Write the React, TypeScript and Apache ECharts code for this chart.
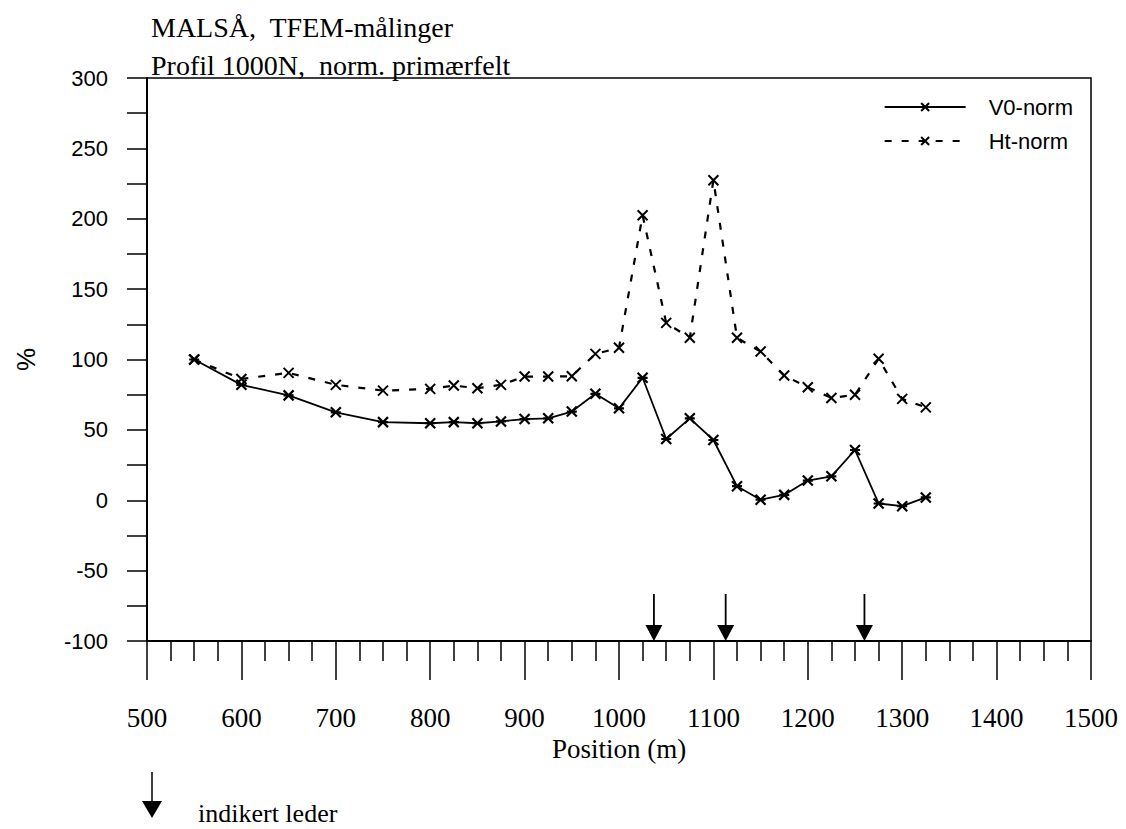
import React, { useEffect, useRef } from "react";
import * as echarts from "echarts";

// Profile positions (m)
const positions = [550, 600, 650, 700, 750, 800, 825, 850, 875, 900, 925, 950, 975, 1000, 1025, 1050, 1075, 1100, 1125, 1150, 1175, 1200, 1225, 1250, 1275, 1300, 1325];
// V0-norm (%)
const v0Norm = [100, 82, 74.5, 62.5, 55.5, 54.7, 55.5, 54.7, 56, 57.7, 58.2, 63, 75.6, 65.3, 87, 43.5, 58.2, 42.8, 10, 0.4, 3.8, 14, 17, 35.7, -2.3, -4.2, 2];
// Ht-norm (%)
const htNorm = [100, 86.2, 90.5, 82, 77.9, 79.1, 81.5, 79.6, 82, 87.9, 87.9, 88.1, 104, 108.3, 202.5, 126, 115.4, 227.4, 115.4, 105.7, 88.6, 80.3, 72.7, 74.9, 100.5, 72, 66];
// Indicated conductors (m)
const conductorPositions = [1037, 1113, 1260];

const SERIF = '"Liberation Serif", "Times New Roman", serif';
const SANS = '"Liberation Sans", Arial, sans-serif';

const ASTERISK = "path://M0,0L10,10M10,0L0,10M0,5L10,5";
const CROSS = "path://M0,0L10,10M10,0L0,10";
const ARROW = "path://M7.6,0L9.4,0L9.4,31L17,31L8.5,47L0,31L7.6,31Z";

export default function App() {
  const ref = useRef<HTMLDivElement>(null);

  useEffect(() => {
    if (!ref.current) return;
    const chart = echarts.init(ref.current, undefined, { renderer: "svg" });
    chart.setOption({
      animation: false,
      backgroundColor: "#fff",
      title: {
        text: "MALSÅ,  TFEM-målinger\nProfil 1000N,  norm. primærfelt",
        left: 151,
        top: 8,
        padding: 0,
        textStyle: {
          fontFamily: SERIF,
          fontWeight: "normal",
          fontSize: 28,
          lineHeight: 38,
          color: "#000",
        },
      },
      legend: {
        data: [{ name: "V0-norm" }, { name: "Ht-norm" }],
        orient: "vertical",
        right: 53,
        top: 96,
        padding: 0,
        itemWidth: 81,
        itemHeight: 10,
        itemGap: 12,
        align: "left",
        textStyle: {
          fontFamily: SANS,
          fontSize: 22,
          color: "#000",
          padding: [0, 0, 0, 18],
        },
      },
      grid: {
        left: 147,
        right: 35,
        top: 78,
        bottom: 188,
        show: true,
        borderColor: "#000",
        borderWidth: 1.5,
        backgroundColor: "transparent",
      },
      xAxis: {
        type: "value",
        min: 500,
        max: 1500,
        interval: 100,
        name: "Position (m)",
        nameLocation: "middle",
        nameGap: 94,
        nameTextStyle: { fontFamily: SERIF, fontSize: 27, color: "#000" },
        axisLine: { show: true, onZero: false, lineStyle: { color: "#000", width: 2 } },
        axisTick: { show: true, inside: false, length: 39, lineStyle: { color: "#000", width: 1.5 } },
        minorTick: { show: true, splitNumber: 4, length: 20, lineStyle: { color: "#000", width: 1.5 } },
        axisLabel: {
          fontFamily: SERIF,
          fontSize: 27,
          color: "#000",
          margin: 63,
          formatter: (v: number) => String(v),
        },
        splitLine: { show: false },
        minorSplitLine: { show: false },
      },
      yAxis: {
        type: "value",
        min: -100,
        max: 300,
        interval: 50,
        name: "%",
        nameLocation: "middle",
        nameGap: 108,
        nameTextStyle: { fontFamily: SANS, fontSize: 26, color: "#000" },
        axisLine: { show: true, onZero: false, lineStyle: { color: "#000", width: 2 } },
        axisTick: { show: true, inside: false, length: 20, lineStyle: { color: "#000", width: 1.5 } },
        minorTick: { show: true, splitNumber: 2, length: 20, lineStyle: { color: "#000", width: 1.5 } },
        axisLabel: { fontFamily: SANS, fontSize: 22, color: "#000", margin: 39 },
        splitLine: { show: false },
        minorSplitLine: { show: false },
      },
      series: [
        {
          name: "V0-norm",
          type: "line",
          data: positions.map((p, i) => [p, v0Norm[i]]),
          symbol: ASTERISK,
          symbolSize: 10,
          showAllSymbol: true,
          lineStyle: { color: "#000", width: 1.8, type: "solid" },
          itemStyle: { color: "#000", borderColor: "#000", borderWidth: 2.2 },
          z: 3,
        },
        {
          name: "Ht-norm",
          type: "line",
          data: positions.map((p, i) => [p, htNorm[i]]),
          symbol: CROSS,
          symbolSize: 10,
          showAllSymbol: true,
          lineStyle: { color: "#000", width: 2.2, type: [7, 10] },
          itemStyle: { color: "#000", borderColor: "#000", borderWidth: 2 },
          z: 3,
        },
        {
          name: "indikert leder",
          type: "scatter",
          data: conductorPositions.map((p) => [p, -100]),
          symbol: ARROW,
          symbolSize: [17, 47],
          symbolOffset: [0, "-50%"],
          itemStyle: { color: "#000", opacity: 1 },
          silent: true,
          z: 4,
        },
      ],
      graphic: [
        {
          type: "line",
          shape: { x1: 152, y1: 772, x2: 152, y2: 802 },
          style: { stroke: "#000", lineWidth: 1.5 },
        },
        {
          type: "polygon",
          shape: { points: [[142, 801], [162, 801], [152, 818]] },
          style: { fill: "#000" },
        },
        {
          type: "text",
          x: 198,
          y: 813,
          style: {
            text: "indikert leder",
            font: `26px ${SERIF}`,
            fill: "#000",
            textVerticalAlign: "middle",
            verticalAlign: "middle",
          },
        },
      ],
    });
    return () => chart.dispose();
  }, []);

  return (
    <div
      ref={ref}
      style={{ position: "fixed", left: 0, top: 0, width: 1126, height: 829, background: "#fff" }}
    />
  );
}
